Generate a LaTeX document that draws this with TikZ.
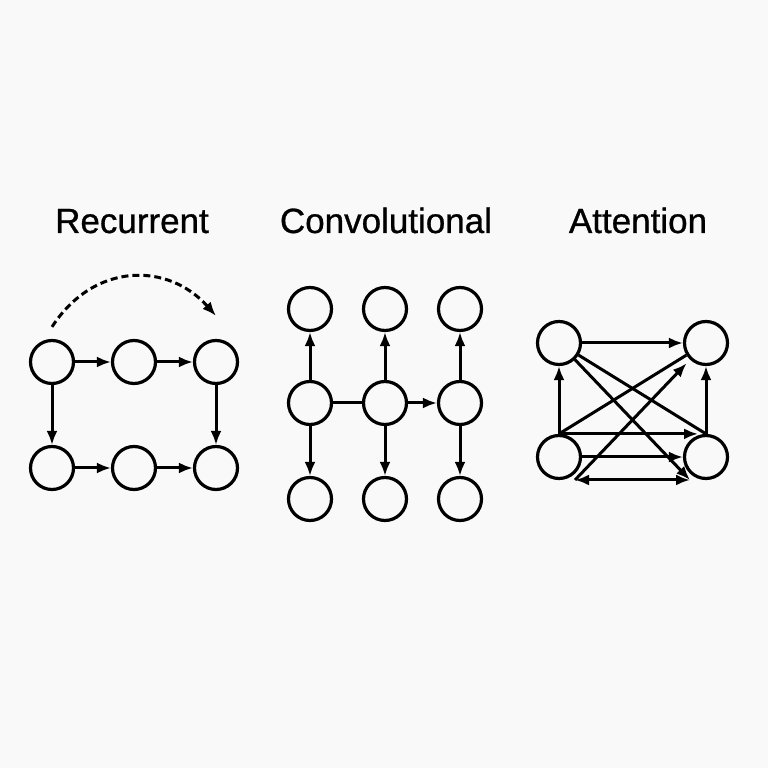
\documentclass[tikz,border=0pt]{standalone}
\usepackage{fontspec}
\setmainfont{Liberation Sans}
\newfontfamily\titlefont{Liberation Sans}[FakeBold=0.8]
\usetikzlibrary{arrows.meta,positioning}

\begin{document}
\begin{tikzpicture}[>={Latex[length=14pt,width=11pt]},x=1pt,y=1pt,on grid,
  neuron/.style={draw,circle,line width=3.2pt,minimum size=43pt,inner sep=0pt},
  link/.style={line width=3pt},
  title/.style={anchor=base,font=\titlefont\fontsize{35}{42}\selectfont}]
  \fill[black!2.5] (0,0) rectangle (768,768);
  \useasboundingbox (0,0) rectangle (768,768);

  % recurrent
  \node[title] (trec) at (132,535) {Recurrent};
  \node[neuron] (r1) at (52,406) {};
  \node[neuron,right=82pt of r1] (r2) {};
  \node[neuron,right=82pt of r2] (r3) {};
  \node[neuron,below=106pt of r1] (r4) {};
  \node[neuron,right=82pt of r4] (r5) {};
  \node[neuron,right=82pt of r5] (r6) {};
  \draw[->,link] (r1) -- (r2);
  \draw[->,link] (r2) -- (r3);
  \draw[->,link] (r4) -- (r5);
  \draw[->,link] (r5) -- (r6);
  \draw[->,link] (r1) -- (r4);
  \draw[->,link] (r3) -- (r6);
  \draw[->,link,dash pattern=on 7pt off 4pt] ([yshift=12pt]r1.north) .. controls +(42,65) and +(-48,54) .. ([yshift=23pt]r3.north);

  % convolutional
  \node[title] (tconv) at (386,535) {Convolutional};
  \node[neuron] (m1) at (310,365) {};
  \node[neuron,right=75pt of m1] (m2) {};
  \node[neuron,right=75pt of m2] (m3) {};
  \node[neuron,above=94pt of m1] (u1) {};
  \node[neuron,above=94pt of m2] (u2) {};
  \node[neuron,above=94pt of m3] (u3) {};
  \node[neuron,below=96pt of m1] (d1) {};
  \node[neuron,below=96pt of m2] (d2) {};
  \node[neuron,below=96pt of m3] (d3) {};
  \foreach \i in {1,2,3} {
    \draw[->,link] (m\i) -- (u\i);
    \draw[->,link] (m\i) -- (d\i);
  }
  \draw[link] (m1) -- (m2);
  \draw[->,link] (m2) -- (m3);

  % attention
  \node[title] (tatt) at (638,535) {Attention};
  \node[neuron] (tl) at (559,425) {};
  \node[neuron,right=147pt of tl] (tr) {};
  \node[neuron,below=114pt of tl] (bl) {};
  \node[neuron,right=147pt of bl] (br) {};
  \coordinate (p) at ([xshift=16pt,yshift=-23pt]bl.center);
  \coordinate (q) at ([xshift=-16pt,yshift=-23pt]br.center);
  \draw[->,link] (tl) -- (tr);
  \draw[link] (tl) -- (br.north);
  \draw[->,link] (tl) -- (q);
  \draw[->,link] (bl.north) -- (tl);
  \draw[link] (bl.north) -- (tr);
  \draw[->,link,shorten >=8pt] (bl.north) -- (br.north);
  \draw[->,link] (bl) -- (br);
  \draw[->,link] (br.north) -- (tr);
  \draw[<->,link] (p) -- (q);
  \draw[->,link,shorten >=5pt] (p) -- (tr);
\end{tikzpicture}
\end{document}
